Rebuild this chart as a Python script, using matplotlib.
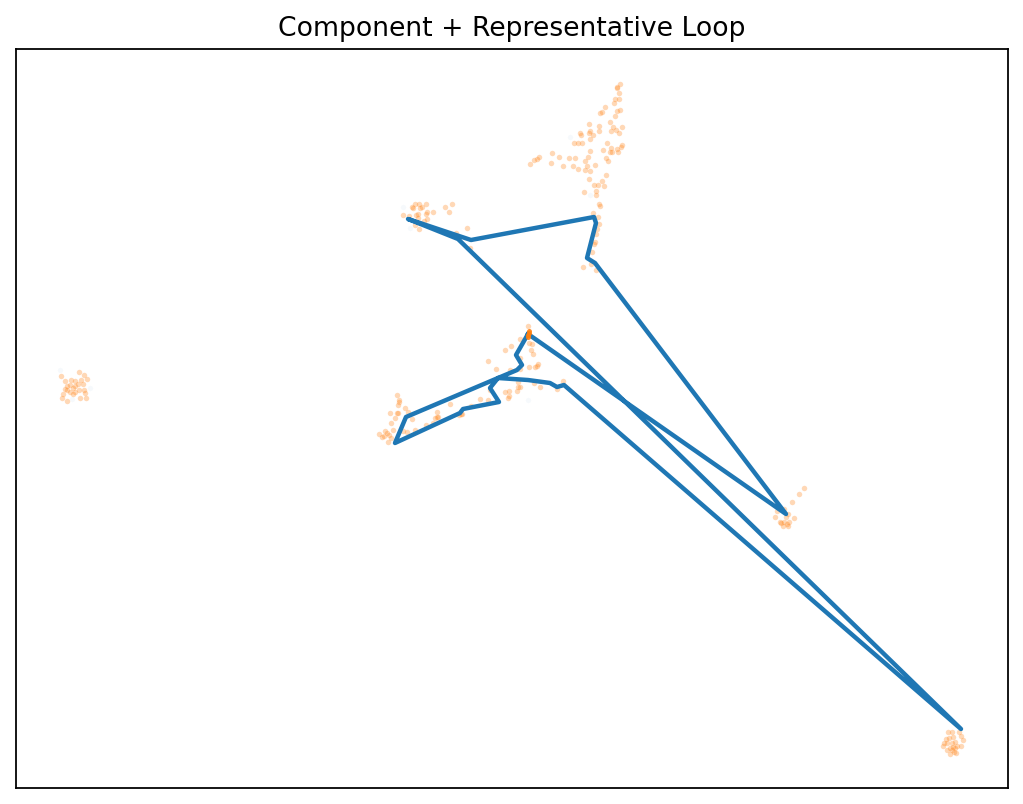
#!/usr/bin/env python3
# Component scatter with its representative loop on top.
import numpy as np
import matplotlib
matplotlib.use('Agg')
import matplotlib.pyplot as plt

loop_x = [528, 786, 595, 587, 596, 594, 471, 408, 458, 961, 564, 557, 550, 528, 498, 406, 395,
          460, 463, 499, 490, 498, 517, 522, 516, 528]
loop_y = [334, 514, 263, 258, 223, 217, 240, 219, 239, 729, 385, 387, 383, 380, 378, 417, 443,
          413, 409, 402, 388, 378, 370, 365, 355, 334]

upper_fan = [
    (620, 84.3), (616.7, 88.3), (617.3, 87.3), (619.3, 93.3), (615, 99.3), (619.3, 99.3), (614.3, 103.3),
    (605, 107.3), (602.3, 112.3), (600, 113.3), (620, 110), (617.3, 110.7), (615.3, 116), (589.3, 124.3),
    (599.3, 125.7), (610.3, 122.3), (612.7, 126.7), (621.7, 127.3), (590.3, 130.7), (599.3, 130.7),
    (611.3, 130.7), (615.7, 130), (619.3, 133.3), (580.3, 133.3), (581.3, 135.3), (589.3, 133.3),
    (592.7, 135.3), (590.3, 139.3), (574.3, 143.3), (578.3, 143.3), (582.3, 143.3), (607.3, 143.3),
    (622.3, 145), (611.3, 147.7), (616.7, 149.3), (620.7, 147.3), (603.3, 150.3), (590.3, 151.3),
    (610.3, 151.7), (612.3, 151.7), (618.3, 152.3), (552.3, 153.3), (588.3, 156.7), (539.3, 157.3),
    (536.7, 158.7), (534, 160.3), (559.3, 157.3), (569.3, 158.3), (575.3, 158.3), (606.3, 158.3),
    (608.3, 161.3), (585.3, 161.3), (551.3, 163.3), (530.3, 164.3), (563.3, 166.3), (573.3, 166.3),
    (587.3, 166.3), (595.3, 165.3), (578.3, 169.3), (585.3, 170.3), (590.3, 171.3), (606.3, 175.3),
    (589.3, 179.3), (602.3, 181.3), (594.3, 185.3), (598.3, 185.3), (604.3, 186.3), (584.3, 192.3),
    (596.3, 191.3), (596.3, 195.3), (599.3, 204.3), (600.3, 206.3), (593.3, 213.3), (598.3, 217.3),
    (599.3, 224.3), (597.3, 229.3), (596.3, 234.3), (595.3, 242.3), (594.3, 244.3), (592.3, 252.3),
    (583.3, 266.7), (591.3, 264.3), (596.3, 270.3),
]
upper_left = [
    (403, 215), (409, 216), (412, 207), (413, 208), (415, 204), (419, 204), (420, 208), (426, 204),
    (422, 207), (427, 212), (426, 214), (433, 212), (416, 215), (418, 214), (418, 218), (427, 219),
    (424, 221), (419, 229), (415, 225), (445, 207), (452, 204), (449, 212), (467, 228), (456, 233),
    (470, 248),
]
middle_arm = [
    (528, 326), (520, 339), (511, 346), (505, 350), (532, 344), (529, 343), (531, 350), (533, 354),
    (488, 361), (496, 369), (529, 367), (535, 367), (538, 364), (537, 366), (510, 370), (520, 369),
    (520, 358), (518, 382), (520, 387), (518, 387), (517, 391), (509, 391), (505, 392), (509, 396),
    (508, 398), (540, 387), (557, 389), (563, 381), (534, 383), (480, 399), (488, 400), (490, 390),
    (450, 404), (471, 406), (437, 412), (437, 417), (438, 417), (435, 418), (462, 414), (459, 415),
    (461, 414), (397, 395), (399, 400), (399, 402), (398, 405), (405, 408), (408, 412), (397, 413),
    (398, 413), (390, 413), (395, 418), (391, 423), (412, 419), (393, 430), (385, 431), (387, 433),
    (379, 434), (382, 437), (384, 436), (389, 435), (391, 438), (388, 442), (403, 431), (407, 432),
    (415, 430), (426, 425), (433, 423),
]
far_left = [
    (61, 376), (79, 372), (84, 375), (87, 379), (65, 381), (71, 380), (75, 381), (81, 380), (83, 384),
    (67, 386), (70, 385), (75, 386), (78, 384), (63, 394), (67, 390), (70, 392), (73, 394), (75, 392),
    (79, 390), (84, 390), (85, 393), (62, 398), (67, 401), (80, 398), (86, 398), (73, 388), (65, 389),
]
right_tip = [
    (804, 488), (799, 494), (792, 502), (777, 511), (784, 509), (775, 517), (788, 514), (794, 518),
    (780, 522), (781, 523), (784, 522), (789, 522), (783, 526), (788, 526), (787, 524), (786, 517),
]
lower_right = [
    (948, 732), (952, 732), (959, 732), (961, 736), (963, 740), (946, 739), (949, 738), (953, 737),
    (955, 742), (944, 743), (947, 743), (952, 743), (943, 746), (957, 746), (961, 746), (953, 747),
    (955, 748), (950, 748), (947, 750), (956, 753), (950, 754), (954, 752), (952, 750),
]
# barely visible points left over from the full point cloud
faint_points = [(570, 137), (590, 195), (403, 207), (410, 228), (60, 370), (90, 388), (72, 399), (528, 400)]
loop_start = [(528.5, 331), (528.5, 333), (528, 335), (528, 337)]

comp = np.array(upper_fan + upper_left + middle_arm + far_left + right_tip + lower_right)
faint = np.array(faint_points)
start = np.array(loop_start)

dpi = 160
fig, ax = plt.subplots(figsize=(1023 / dpi, 804 / dpi), dpi=dpi)
fig.subplots_adjust(left=16 / 1023, right=1007.5 / 1023, top=1 - 49 / 804, bottom=1 - 787.5 / 804)

ax.scatter(faint[:, 0], faint[:, 1], s=6, color='tab:blue', alpha=0.04, linewidths=0)
ax.scatter(comp[:, 0], comp[:, 1], s=6, color='tab:orange', alpha=0.3, linewidths=0)
ax.plot(loop_x, loop_y, color='tab:blue', linewidth=2)
ax.scatter(start[:, 0], start[:, 1], s=5, color='tab:orange', alpha=0.9, linewidths=0, zorder=3)

ax.set_xlim(16, 1007.5)
ax.set_ylim(787.5, 49)
ax.set_xticks([])
ax.set_yticks([])
ax.set_title('Component + Representative Loop', fontsize=12)

fig.savefig('out.png', dpi=dpi)
